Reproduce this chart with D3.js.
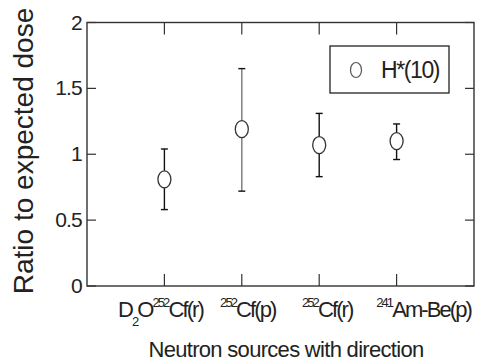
<!DOCTYPE html>
<html>
<head>
<meta charset="utf-8">
<script src="https://cdn.jsdelivr.net/npm/d3@7"></script>
<style>
  body { margin: 0; background: #fff; }
  svg { display: block; font-family: "Liberation Sans", Arial, sans-serif; }
</style>
</head>
<body>
<div id="chart"></div>
<script>
// source categories (label parts: [text, kind])
const sources = [
  [["D", "n"], ["2", "sub"], ["O", "n"], ["252", "sup"], ["Cf(r)", "n"]],
  [["252", "sup"], ["Cf(p)", "n"]],
  [["252", "sup"], ["Cf(r)", "n"]],
  [["241", "sup"], ["Am-Be(p)", "n"]]
];
const ratio = [0.81, 1.19, 1.07, 1.10];
const errLow = [0.58, 0.72, 0.83, 0.96];
const errHigh = [1.04, 1.65, 1.31, 1.23];
const yTicks = [0, 0.5, 1, 1.5, 2];
const legendLabel = "H*(10)";

const width = 478, height = 362;
const margin = {top: 22.5, right: 4, bottom: 76, left: 87};

const svg = d3.select("#chart").append("svg")
  .attr("width", width)
  .attr("height", height);

const x = d3.scaleLinear()
  .domain([0, sources.length + 1])
  .range([margin.left, width - margin.right]);

const y = d3.scaleLinear()
  .domain([0, 2])
  .range([height - margin.bottom, margin.top]);

const axisColor = "#333";

// frame
svg.append("rect")
  .attr("x", x(0))
  .attr("y", y(2))
  .attr("width", x(sources.length + 1) - x(0))
  .attr("height", y(0) - y(2))
  .attr("fill", "none")
  .attr("stroke", axisColor)
  .attr("stroke-width", 1.4);

// y ticks, inside on both sides
yTicks.forEach(t => {
  svg.append("line")
    .attr("x1", x(0)).attr("x2", x(0) + 9)
    .attr("y1", y(t)).attr("y2", y(t))
    .attr("stroke", axisColor).attr("stroke-width", 1.2);
  svg.append("line")
    .attr("x1", x(sources.length + 1)).attr("x2", x(sources.length + 1) - 9)
    .attr("y1", y(t)).attr("y2", y(t))
    .attr("stroke", axisColor).attr("stroke-width", 1.2);
  svg.append("text")
    .attr("x", x(0) - 5)
    .attr("y", y(t) + 7)
    .attr("text-anchor", "end")
    .style("font-size", "21px")
    .style("letter-spacing", "-0.8px")
    .attr("fill", "#222")
    .text(t);
});

// x ticks, inside on bottom and top
const labelShift = [-4, 6, 8, 27];
sources.forEach((parts, i) => {
  const xi = x(i + 1);
  svg.append("line")
    .attr("x1", xi).attr("x2", xi)
    .attr("y1", y(0)).attr("y2", y(0) - 12)
    .attr("stroke", axisColor).attr("stroke-width", 1.2);
  svg.append("line")
    .attr("x1", xi).attr("x2", xi)
    .attr("y1", y(2)).attr("y2", y(2) + 12)
    .attr("stroke", axisColor).attr("stroke-width", 1.2);

  const txt = svg.append("text")
    .attr("x", xi + labelShift[i])
    .attr("y", y(0) + 31)
    .attr("text-anchor", "middle")
    .attr("fill", "#222")
    .style("font-size", "22px")
    .style("letter-spacing", "-1.9px");
  // each part sits on its own baseline offset
  let shift = 0;
  parts.forEach(([s, kind]) => {
    const ts = txt.append("tspan").text(s);
    const target = kind === "sup" ? -10 : kind === "sub" ? 9 : 0;
    if (kind !== "n") ts.style("font-size", "13px");
    ts.attr("dy", target - shift);
    shift = target;
  });
});

// error bars
sources.forEach((_, i) => {
  const xi = x(i + 1);
  const barColor = i === 1 ? "#777" : "#111";
  svg.append("line")
    .attr("x1", xi).attr("x2", xi)
    .attr("y1", y(errLow[i])).attr("y2", y(errHigh[i]))
    .attr("stroke", barColor).attr("stroke-width", 1.4);
  [errLow[i], errHigh[i]].forEach(v => {
    svg.append("line")
      .attr("x1", xi - 3.5).attr("x2", xi + 3.5)
      .attr("y1", y(v)).attr("y2", y(v))
      .attr("stroke", "#111").attr("stroke-width", 1.4);
  });
});

// markers
svg.append("g")
  .selectAll("ellipse")
  .data(ratio)
  .join("ellipse")
    .attr("cx", (d, i) => x(i + 1))
    .attr("cy", d => y(d))
    .attr("rx", 6.5)
    .attr("ry", 8.5)
    .attr("fill", "white")
    .attr("stroke", "#333")
    .attr("stroke-width", 1.3);

// legend
svg.append("rect")
  .attr("x", 330).attr("y", 46)
  .attr("width", 119).attr("height", 47)
  .attr("fill", "white")
  .attr("stroke", "#222")
  .attr("stroke-width", 1.3);
svg.append("ellipse")
  .attr("cx", 356).attr("cy", 70)
  .attr("rx", 5.5).attr("ry", 7.5)
  .attr("fill", "none")
  .attr("stroke", "#555")
  .attr("stroke-width", 1.2);
svg.append("text")
  .attr("x", 381).attr("y", 78)
  .style("font-size", "23px")
  .style("letter-spacing", "-1.4px")
  .attr("fill", "#222")
  .text(legendLabel);

// axis titles
svg.append("text")
  .attr("transform", `translate(33, 151) rotate(-90)`)
  .attr("text-anchor", "middle")
  .style("font-size", "28px")
  .attr("fill", "#222")
  .text("Ratio to expected dose");

svg.append("text")
  .attr("x", 286)
  .attr("y", 357)
  .attr("text-anchor", "middle")
  .style("font-size", "22px")
  .style("letter-spacing", "-0.7px")
  .attr("fill", "#222")
  .text("Neutron sources with direction");
</script>
</body>
</html>
